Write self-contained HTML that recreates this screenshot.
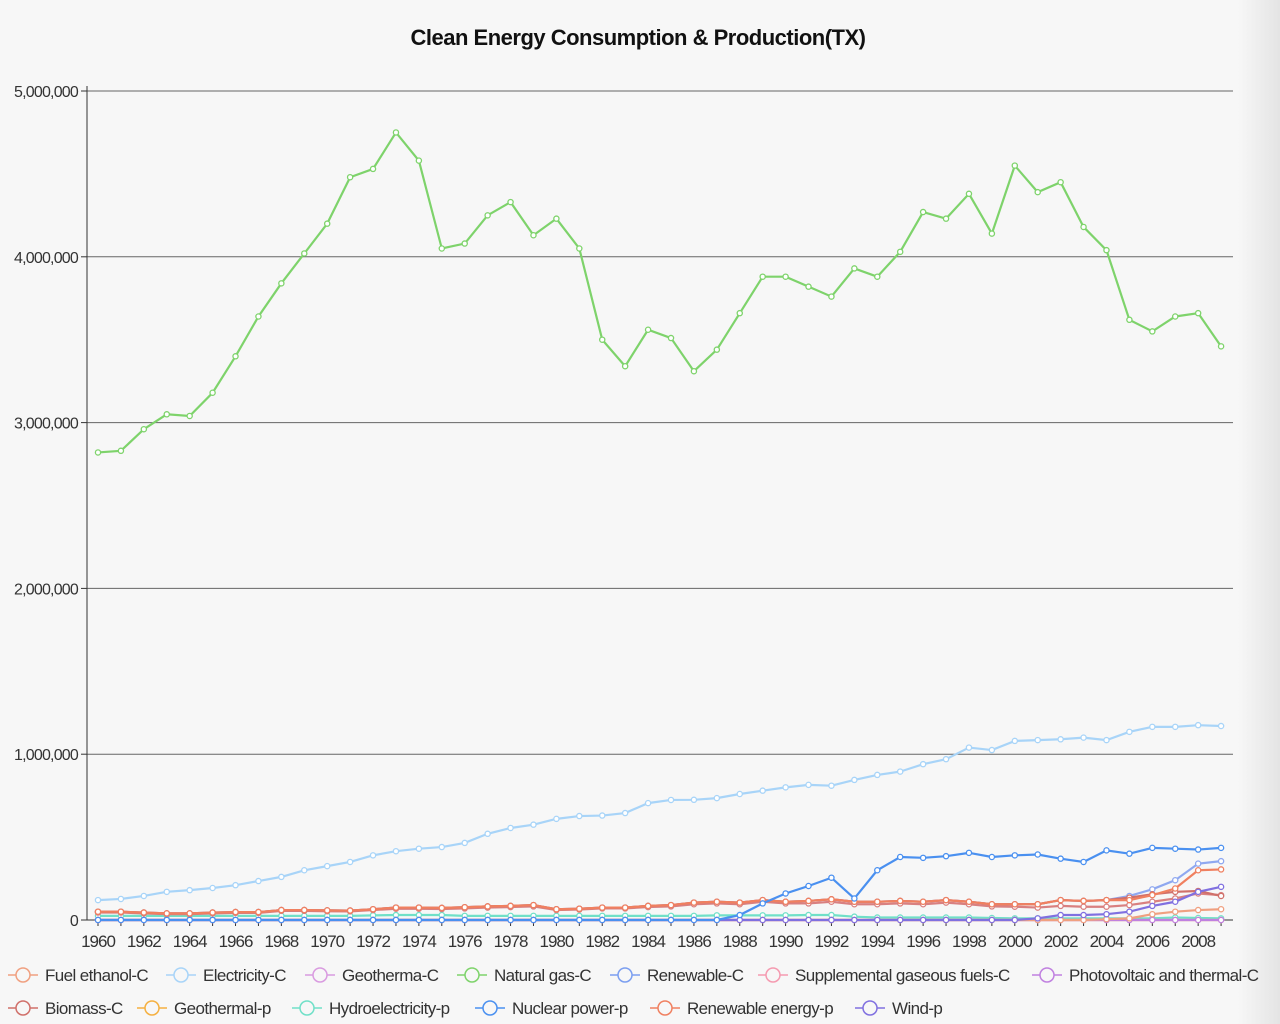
<!DOCTYPE html>
<html><head><meta charset="utf-8"><style>
body{margin:0;width:1280px;height:1024px;background:#f7f7f7;overflow:hidden;font-family:"Liberation Sans",sans-serif}
#shade{position:absolute;left:1238px;top:0;width:42px;height:1024px;background:linear-gradient(to right,#f7f7f7,#e4e4e4)}
svg{position:absolute;left:0;top:0}
</style></head><body>
<div id="shade"></div>
<svg id="c" width="1280" height="1024">
<text x="638" y="45" text-anchor="middle" font-size="22" font-weight="bold" fill="#111" style="letter-spacing:-0.5px">Clean Energy Consumption &amp; Production(TX)</text>
</svg>
<script>
const years=[];for(let y=1960;y<=2009;y++)years.push(y);
const yTicks=[0,1000000,2000000,3000000,4000000,5000000];
const yTickLabels=["0","1,000,000","2,000,000","3,000,000","4,000,000","5,000,000"];
const xTickLabels=["1960","1962","1964","1966","1968","1970","1972","1974","1976","1978","1980","1982","1984","1986","1988","1990","1992","1994","1996","1998","2000","2002","2004","2006","2008"];
const naturalGas=[2.82,2.83,2.96,3.05,3.04,3.18,3.40,3.64,3.84,4.02,4.20,4.48,4.53,4.75,4.58,4.05,4.08,4.25,4.33,4.13,4.23,4.05,3.50,3.34,3.56,3.51,3.31,3.44,3.66,3.88,3.88,3.82,3.76,3.93,3.88,4.03,4.27,4.23,4.38,4.14,4.55,4.39,4.45,4.18,4.04,3.62,3.55,3.64,3.66,3.46];
const electricity=[0.12,0.127,0.145,0.17,0.18,0.193,0.21,0.235,0.26,0.30,0.325,0.35,0.39,0.415,0.43,0.44,0.465,0.52,0.555,0.575,0.61,0.627,0.63,0.645,0.705,0.724,0.725,0.735,0.76,0.78,0.80,0.815,0.81,0.845,0.875,0.895,0.94,0.97,1.04,1.025,1.08,1.085,1.09,1.10,1.085,1.135,1.165,1.165,1.175,1.17];
const nuclear=[0,0,0,0,0,0,0,0,0,0,0,0,0,0,0,0,0,0,0,0,0,0,0,0,0,0,0,0,0.03,0.10,0.16,0.205,0.255,0.13,0.30,0.38,0.375,0.385,0.405,0.38,0.39,0.395,0.37,0.35,0.42,0.40,0.435,0.43,0.425,0.435];
const biomass=[0.05,0.05,0.045,0.04,0.04,0.045,0.048,0.048,0.06,0.06,0.058,0.057,0.065,0.075,0.075,0.073,0.077,0.082,0.085,0.09,0.065,0.068,0.075,0.075,0.085,0.09,0.105,0.11,0.105,0.12,0.11,0.115,0.125,0.11,0.11,0.115,0.11,0.12,0.11,0.095,0.095,0.095,0.12,0.115,0.12,0.135,0.155,0.17,0.175,0.145];
const renewableC=[0.05,0.05,0.045,0.04,0.04,0.045,0.048,0.048,0.06,0.06,0.058,0.057,0.065,0.075,0.075,0.073,0.077,0.082,0.085,0.09,0.065,0.068,0.075,0.075,0.085,0.09,0.105,0.11,0.105,0.12,0.11,0.115,0.125,0.11,0.11,0.115,0.11,0.12,0.11,0.095,0.095,0.095,0.12,0.115,0.12,0.145,0.185,0.24,0.34,0.355];
const supplemental=[0.045,0.045,0.04,0.035,0.035,0.04,0.043,0.043,0.055,0.055,0.053,0.052,0.06,0.068,0.068,0.066,0.07,0.075,0.078,0.082,0.06,0.063,0.07,0.07,0.078,0.082,0.095,0.1,0.095,0.11,0.1,0.1,0.11,0.095,0.095,0.1,0.095,0.105,0.095,0.082,0.08,0.075,0.085,0.08,0.08,0.09,0.11,0.13,0.16,0.15];
const renewableP=[0.05,0.05,0.045,0.04,0.04,0.045,0.048,0.048,0.06,0.06,0.058,0.057,0.065,0.075,0.075,0.073,0.077,0.082,0.085,0.09,0.065,0.068,0.075,0.075,0.085,0.09,0.105,0.11,0.105,0.12,0.11,0.115,0.125,0.11,0.11,0.115,0.11,0.12,0.11,0.095,0.095,0.095,0.12,0.115,0.12,0.12,0.15,0.19,0.30,0.305];
const wind=[0,0,0,0,0,0,0,0,0,0,0,0,0,0,0,0,0,0,0,0,0,0,0,0,0,0,0,0,0,0,0,0,0,0,0,0,0,0,0,0,0,0.01,0.03,0.03,0.035,0.05,0.085,0.11,0.17,0.2];
const fuelEthanol=[0,0,0,0,0,0,0,0,0,0,0,0,0,0,0,0,0,0,0,0,0,0,0,0,0,0,0,0,0,0,0,0,0,0,0,0,0,0,0,0,0,0,0,0,0.005,0.01,0.035,0.05,0.06,0.065];
const hydro=[0.025,0.025,0.025,0.025,0.025,0.025,0.025,0.025,0.025,0.025,0.025,0.025,0.028,0.03,0.03,0.03,0.025,0.025,0.025,0.025,0.025,0.025,0.025,0.025,0.025,0.025,0.025,0.028,0.028,0.028,0.028,0.03,0.03,0.02,0.015,0.015,0.015,0.015,0.015,0.012,0.01,0.01,0.01,0.01,0.01,0.01,0.01,0.015,0.012,0.01];
const zeros=years.map(()=>0);
const series=[
 ["hydroelectricity-p",hydro,"#70e0c8"],["geothermal-p",zeros,"#f5b040"],["geotherma-c",zeros,"#d99be0"],["photovoltaic-c",zeros,"#c080e0"],
 ["fuel-ethanol-c",fuelEthanol,"#f0a080"],["renewable-c",renewableC,"#8fa8f0"],["supplemental-c",supplemental,"#d98080"],["biomass-c",biomass,"#d0706a"],
 ["renewable-energy-p",renewableP,"#f08060"],["wind-p",wind,"#8070e0"],["nuclear-power-p",nuclear,"#4a90f0"],["electricity-c",electricity,"#a8d4f8"],["natural-gas-c",naturalGas,"#7ed36b"]];
const svg=document.getElementById('c');const NS="http://www.w3.org/2000/svg";
const X0=98,DX=22.92,Y0=920,YT=91,L=87,R=1233;
const xs=i=>X0+i*DX; const ys=v=>Y0-v/5000000*(Y0-YT);
function el(t,a,p){const e=document.createElementNS(NS,t);for(const k in a)e.setAttribute(k,a[k]);(p||svg).appendChild(e);return e;}
yTicks.forEach((v,i)=>{
 if(v>0){const g=el('line',{x1:L,x2:R,y1:ys(v),y2:ys(v),stroke:'#666','stroke-width':1});
 
 }
 el('line',{x1:L-6,x2:L,y1:ys(v),y2:ys(v),stroke:'#333'});
 const t=el('text',{x:L-9,y:ys(v)+6,'text-anchor':'end','font-size':16,fill:'#333',style:'letter-spacing:-0.8px'});t.textContent=yTickLabels[i];
 
 
});
el('line',{x1:L,x2:L,y1:YT-5,y2:Y0,stroke:'#333'});
el('line',{x1:L,x2:R,y1:Y0,y2:Y0,stroke:'#333'});
xTickLabels.forEach((lab,i)=>{const yi=years.indexOf(+lab);const x=xs(yi);
 el('line',{x1:x,x2:x,y1:Y0,y2:Y0+6,stroke:'#333'});el('line',{x1:x+DX,x2:x+DX,y1:Y0,y2:Y0+6,stroke:'#333'});
 const t=el('text',{x:x,y:Y0+27,'text-anchor':'middle','font-size':17,fill:'#333',style:'letter-spacing:-1px'});t.textContent=lab;
 
 
});
series.forEach(([name,vals,col])=>{
 const g=el('g',{});
 
 
 el('polyline',{points:vals.map((v,i)=>xs(i)+','+ys(v*1e6)).join(' '),fill:'none',stroke:col,'stroke-width':2.2},g);
 vals.forEach((v,i)=>el('circle',{cx:xs(i),cy:ys(v*1e6),r:2.6,fill:'#fff',stroke:col,'stroke-width':1.3},g));
});
const legend=[["Fuel ethanol-C","#f0a080",23,975],["Electricity-C","#a8d4f8",181,975],["Geotherma-C","#d99be0",320,975],["Natural gas-C","#7ed36b",472,975],["Renewable-C","#7b9ef0",625,975],["Supplemental gaseous fuels-C","#f59ab0",773,975],["Photovoltaic and thermal-C","#c080e0",1047,975],
["Biomass-C","#d0706a",23,1008],["Geothermal-p","#f5b040",152,1008],["Hydroelectricity-p","#70e0c8",307,1008],["Nuclear power-p","#4a90f0",490,1008],["Renewable energy-p","#f08060",665,1008],["Wind-p","#8070e0",870,1008]];
legend.forEach(([lab,col,x,y])=>{const g=el('g',{});
 
 
 el('line',{x1:x-15,x2:x+15,y1:y,y2:y,stroke:col,'stroke-width':1.5},g);
 el('circle',{cx:x,cy:y,r:7,fill:'#f7f7f7',stroke:col,'stroke-width':1.5},g);
 const t=el('text',{x:x+22,y:y+6,'font-size':17,fill:'#333',style:'letter-spacing:-0.6px'},g);t.textContent=lab;});
</script>
</body></html>
